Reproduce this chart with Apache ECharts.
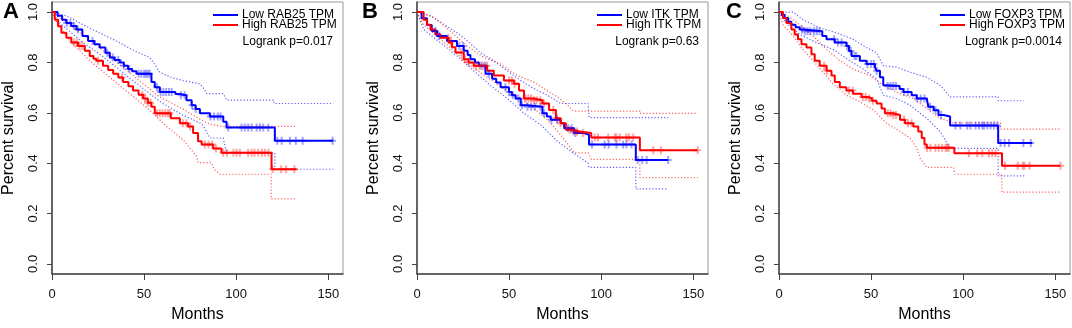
<!DOCTYPE html>
<html>
<head>
<meta charset="utf-8">
<script src="https://cdn.jsdelivr.net/npm/echarts@6/dist/echarts.min.js"></script>
<style>
  html, body { margin: 0; padding: 0; background: #fff; }
  #chart { width: 1072px; height: 328px; }
</style>
</head>
<body>
<div id="chart"></div>
<script>
// axis ticks
const monthTicks = [0, 50, 100, 150]
const survivalTicks = [0, 0.2, 0.4, 0.6, 0.8, 1.0]

const panelLetters = ['A', 'B', 'C']
const lowNames = ['Low RAB25 TPM', 'Low ITK TPM', 'Low FOXP3 TPM']
const highNames = ['High RAB25 TPM', 'High ITK TPM', 'High FOXP3 TPM']
const logrankTexts = ['Logrank p=0.017', 'Logrank p=0.63', 'Logrank p=0.0014']

// ---- A: RAB25 ---- [month, survival]
const rab25Low = [[0,1],[3,0.985],[5.5,0.97],[7.8,0.957],[10.5,0.945],[13.3,0.931],[16.5,0.905],[19.6,0.885],[23,0.872],[25.9,0.859],[29,0.838],[31.4,0.82],[34,0.81],[36.8,0.8],[39,0.787],[41.3,0.774],[43.5,0.765],[45.9,0.755],[54,0.722],[55.8,0.702],[58.5,0.683],[67,0.675],[69.4,0.67],[73,0.65],[75.8,0.63],[78,0.615],[80.3,0.598],[85.7,0.585],[93,0.565],[94.8,0.542],[121,0.489],[152.7,0.489]]
const rab25High = [[0,1],[1.5,0.97],[3.3,0.944],[5.1,0.918],[7.8,0.898],[10.5,0.879],[14.1,0.865],[17.8,0.846],[20.5,0.826],[22.5,0.815],[24.1,0.807],[27.7,0.787],[30.5,0.77],[33.2,0.755],[36,0.74],[38.6,0.722],[41.5,0.705],[44,0.689],[47,0.672],[49.5,0.657],[52,0.64],[54,0.624],[55.8,0.598],[64.5,0.578],[69.4,0.559],[73.9,0.546],[76.6,0.52],[79.3,0.487],[81.2,0.474],[87.5,0.458],[92,0.441],[119.2,0.376],[132.8,0.376]]
const rab25LowUpper = [[0,1],[8,0.985],[16.8,0.95],[25,0.92],[35,0.885],[45,0.845],[53,0.82],[56,0.79],[58.5,0.761],[65,0.74],[71.2,0.728],[80.3,0.715],[82,0.7],[84,0.676],[93,0.676],[94.8,0.65],[120.5,0.65],[120.5,0.637],[152.7,0.637]]
const rab25LowLower = [[0,1],[4.2,0.957],[16.8,0.879],[25.9,0.833],[35,0.781],[44,0.728],[53,0.676],[60.3,0.637],[71.2,0.59],[80.3,0.56],[82,0.55],[85.7,0.5],[93,0.5],[94.8,0.441],[121,0.441],[121,0.376],[152.7,0.376]]
const rab25HighUpper = [[0,1],[4.2,0.976],[16.8,0.911],[27.7,0.846],[38.6,0.781],[49.5,0.715],[58.5,0.663],[71.2,0.615],[80.3,0.575],[85.7,0.555],[93,0.546],[132.8,0.546]]
const rab25HighLower = [[0,1],[2.4,0.963],[9.6,0.885],[20.5,0.807],[31.4,0.741],[42.2,0.676],[53,0.611],[62.2,0.546],[71.2,0.493],[78.5,0.428],[79.3,0.402],[86.6,0.402],[88,0.376],[91.2,0.356],[119,0.356],[119,0.258],[132.8,0.258]]
const rab25LowCensor = [8,10,12,14,22,30,33,36,39,42,47,48.5,50,51,52,53,57,59,60.5,62,63.5,65,70,72,76,78,86,88,90,91.5,95.7,102.9,104.7,106.5,108.4,111.1,112.9,114.7,117.4,122.3,124.7,129.2,132.4,136.1,152.4]
const rab25HighCensor = [12,13.5,15,16.5,25,38,49,50.5,52,53.5,57,58.5,60,61.5,63,64,71,73,75,83,85,87,89,93,95,98.5,100.2,102,106.5,108.4,110,112,114,115.6,117.5,119.8,124.4,127.1,131.6]

// ---- B: ITK ----
const itkLow = [[0,1],[2.5,0.975],[5.4,0.949],[8,0.925],[10.9,0.905],[16.3,0.885],[21.7,0.865],[25.4,0.846],[27.5,0.83],[29,0.813],[31.5,0.8],[33.6,0.787],[37.2,0.755],[40.8,0.735],[43,0.72],[45.4,0.702],[49.9,0.683],[51.5,0.67],[53.5,0.657],[56.3,0.63],[59.9,0.624],[68.1,0.598],[70.5,0.585],[72.6,0.572],[78,0.559],[79.9,0.539],[85.3,0.52],[90.7,0.513],[93.4,0.474],[118.8,0.413],[136.4,0.413]]
const itkHigh = [[0,1],[3.6,0.97],[5.5,0.95],[7.3,0.931],[10,0.912],[12.7,0.898],[17.2,0.879],[19,0.86],[20.9,0.839],[25.4,0.813],[28,0.8],[30.8,0.787],[38.1,0.767],[41.7,0.748],[47.2,0.728],[52.6,0.715],[55.4,0.689],[58.1,0.657],[63.5,0.65],[68.1,0.637],[71.7,0.611],[75.4,0.578],[78,0.559],[80.8,0.533],[84.5,0.526],[88.1,0.52],[94.6,0.502],[121,0.451],[152.4,0.451]]
const itkLowUpper = [[0,1],[7.3,0.985],[16.3,0.944],[25.4,0.898],[34.5,0.839],[41.7,0.807],[49,0.767],[56.3,0.728],[63.5,0.696],[70.8,0.67],[78,0.637],[92.9,0.637],[93.4,0.581],[136.4,0.581]]
const itkLowLower = [[0,1],[3.6,0.931],[12.7,0.879],[21.7,0.826],[30.8,0.767],[39.9,0.709],[49,0.657],[58.1,0.598],[67.2,0.552],[76.2,0.487],[85,0.44],[92.9,0.4],[93.4,0.383],[118.8,0.383],[118.8,0.298],[136.4,0.298]]
const itkHighUpper = [[0,1],[9.1,0.98],[18.1,0.924],[27.2,0.865],[36.3,0.82],[45.4,0.794],[54.4,0.748],[63.5,0.722],[68.9,0.696],[76.2,0.663],[80.8,0.637],[85,0.607],[121,0.607],[121,0.598],[152.4,0.598]]
const itkHighLower = [[0,1],[3.6,0.949],[10.9,0.905],[19.9,0.846],[29,0.787],[38.1,0.741],[47.2,0.696],[56.3,0.657],[63.5,0.617],[70.8,0.572],[78,0.513],[85.3,0.441],[93,0.441],[94.7,0.415],[121,0.415],[121,0.343],[152.4,0.343]]
const itkLowCensor = [10,12,23,25,35,37,39,48,50,52,55,57,60,62,64,67,69,73,76,82,84,86,95,101.9,104.1,108.3,111.9,113.7,116.5,119.8,122.3,124.7,136.4]
const itkHighCensor = [17,18.5,24,26,28,32,34,36,38,50,51.5,53,59,60.5,62,63.5,65,67,69,74,76,78,83,85,87,90,96.5,98.3,103.8,107.4,108.3,110.1,113.7,115,117.4,128.3,132.4,152.4]

// ---- C: FOXP3 ----
const foxp3Low = [[0,1],[1.5,0.988],[3.1,0.976],[5,0.962],[6.7,0.95],[9,0.94],[11.3,0.931],[13,0.924],[23.5,0.905],[25.8,0.892],[30.3,0.879],[36.6,0.865],[38,0.845],[39.4,0.826],[43.9,0.807],[47.5,0.794],[52.1,0.781],[53,0.767],[54.8,0.741],[56.6,0.709],[58.4,0.706],[65.5,0.695],[67.5,0.683],[72,0.67],[74.8,0.657],[80.2,0.65],[81.1,0.624],[84,0.61],[86.6,0.591],[89.3,0.585],[92.9,0.55],[119,0.48],[137.5,0.48]]
const foxp3High = [[0,1],[2.2,0.976],[4,0.957],[6.7,0.931],[8.5,0.911],[10.3,0.892],[12.2,0.872],[14.9,0.859],[17.6,0.833],[19.4,0.807],[22.1,0.787],[25.8,0.767],[28.5,0.748],[30.3,0.722],[33,0.702],[36.6,0.689],[40.2,0.676],[44.8,0.663],[48.4,0.657],[50.5,0.648],[53,0.637],[55.7,0.617],[57.5,0.598],[62,0.591],[65.7,0.572],[68.4,0.559],[72.9,0.546],[75.6,0.526],[77.5,0.5],[79,0.474],[80.2,0.461],[95.2,0.439],[121.1,0.39],[152.8,0.39]]
const foxp3LowUpper = [[0,1],[7.6,1],[13,0.97],[22.1,0.937],[31.2,0.918],[40.2,0.892],[47.5,0.859],[53,0.839],[56.6,0.787],[63.9,0.781],[71.1,0.761],[80.2,0.741],[87.5,0.709],[92.9,0.663],[119,0.663],[119,0.648],[132.8,0.648]]
const foxp3LowLower = [[0,1],[4,0.957],[11.3,0.911],[20.3,0.879],[29.4,0.852],[38.4,0.807],[45.7,0.774],[53,0.735],[56.6,0.67],[63.9,0.657],[71.1,0.63],[80.2,0.578],[87.5,0.526],[92.9,0.459],[119,0.459],[119,0.35],[133.8,0.35]]
const foxp3HighUpper = [[0,1],[4,0.989],[11.3,0.95],[18.5,0.905],[25.8,0.852],[33,0.807],[40.2,0.774],[49.3,0.748],[56.6,0.709],[65.7,0.676],[72.9,0.657],[80.2,0.617],[87.5,0.578],[94.7,0.56],[120.3,0.56],[120.3,0.535],[152.8,0.535]]
const foxp3HighLower = [[0,1],[2.2,0.949],[7.6,0.905],[13,0.852],[18.5,0.807],[23.9,0.761],[29.4,0.715],[36.6,0.67],[43.9,0.644],[51.2,0.611],[58.4,0.559],[65.7,0.526],[71.1,0.5],[74.8,0.461],[76.6,0.42],[80.2,0.383],[94.7,0.383],[95.5,0.356],[121,0.356],[121,0.285],[152.8,0.285]]
const foxp3LowCensor = [12.5,14,15.5,17,19,20.5,22,30,32,34,37,39,41,42,48,50,51.5,53,59,60.5,62,63.5,68,70,75,77,79,82,85,88,95.8,98.5,102.2,104,106.7,108.6,110.4,111.3,113.1,114.9,116.7,118.5,120.3,122.5,124.9,132.7,136.7]
const foxp3HighCensor = [24.5,26,38,40,45.5,47,49,51,59,60.5,62,63.5,68,70,72,80.4,82.2,84.9,86.7,88.6,90.4,91.3,92.2,103.1,107.6,110.4,114,115.8,117.6,122.7,129.6,132.4,133.3,136,152.8]

const panels = [
  {low: rab25Low, high: rab25High, lowCi: [rab25LowUpper, rab25LowLower], highCi: [rab25HighUpper, rab25HighLower], lowCens: rab25LowCensor, highCens: rab25HighCensor},
  {low: itkLow, high: itkHigh, lowCi: [itkLowUpper, itkLowLower], highCi: [itkHighUpper, itkHighLower], lowCens: itkLowCensor, highCens: itkHighCensor},
  {low: foxp3Low, high: foxp3High, lowCi: [foxp3LowUpper, foxp3LowLower], highCi: [foxp3HighUpper, foxp3HighLower], lowCens: foxp3LowCensor, highCens: foxp3HighCensor}
]

const BLUE = '#0000ff', RED = '#ff0000'
const font = '"Liberation Sans", Arial, Helvetica, sans-serif'
const gridLeft = [52, 417, 779]
const legendLeft = [213, 597, 940]
const logrankRight = [333, 699, 1062]
const letterLeft = [3, 362, 726]
const plus = 'path://M2.5,0h2v8h-2zM0,3h7v2h-7z'

// survival value of a curve at time t (step function)
const stepAt = (curve, t) => {
  let v = curve[0][1]
  for (const [m, s] of curve) { if (m <= t) v = s; else break }
  return v
}

let grids = [], xAxes = [], yAxes = [], series = [], graphics = []

panels.forEach((p, i) => {
  grids.push({left: gridLeft[i], top: 2, width: 291, height: 276, show: true, borderColor: '#999', borderWidth: 1})
  xAxes.push({
    gridIndex: i, type: 'value', min: 0, max: 158,
    name: 'Months', nameLocation: 'middle', nameGap: 33,
    nameTextStyle: {fontSize: 16, fontFamily: font, color: '#000'},
    axisLine: {show: true, onZero: false, lineStyle: {color: '#444', width: 1.5}},
    axisTick: {show: true, length: 6, customValues: monthTicks, lineStyle: {color: '#444'}},
    axisLabel: {customValues: monthTicks, margin: 14, fontSize: 13, fontFamily: font, color: '#111'},
    splitLine: {show: false}
  })
  yAxes.push({
    gridIndex: i, type: 'value', min: -0.04, max: 1.04,
    name: 'Percent survival', nameLocation: 'middle', nameGap: 35,
    nameTextStyle: {fontSize: 16, fontFamily: font, color: '#000'},
    axisLine: {show: true, onZero: false, lineStyle: {color: '#444', width: 1.5}},
    axisTick: {show: true, length: 5, customValues: survivalTicks, lineStyle: {color: '#444'}},
    axisLabel: {customValues: survivalTicks, rotate: 90, margin: 12, fontSize: 13, fontFamily: font, color: '#111',
      formatter: v => v.toFixed(1)},
    splitLine: {show: false}
  })

  const ci = (data, color, name) => ({
    name, type: 'line', xAxisIndex: i, yAxisIndex: i, data, showSymbol: false, z: 1, silent: true,
    lineStyle: {color, width: 1.2, type: [1.2, 2]}
  })
  series.push(ci(p.lowCi[0], 'rgba(40,40,255,0.75)', 'lowU' + i))
  series.push(ci(p.lowCi[1], 'rgba(40,40,255,0.75)', 'lowL' + i))
  series.push(ci(p.highCi[0], 'rgba(255,40,40,0.75)', 'highU' + i))
  series.push(ci(p.highCi[1], 'rgba(255,40,40,0.75)', 'highL' + i))

  const km = (data, color, name) => ({
    name, type: 'line', step: 'end', xAxisIndex: i, yAxisIndex: i, data, showSymbol: false, z: 3,
    itemStyle: {color}, lineStyle: {color, width: 2}
  })
  series.push(km(p.low, BLUE, lowNames[i]))
  series.push(km(p.high, RED, highNames[i]))

  const cens = (times, curve, color, name) => ({
    name, type: 'scatter', xAxisIndex: i, yAxisIndex: i, z: 4, silent: true,
    data: times.map(t => [t, stepAt(curve, t)]),
    symbol: plus, symbolSize: [7, 8], itemStyle: {color}
  })
  series.push(cens(p.lowCens, p.low, 'rgba(0,0,255,0.45)', 'lowC' + i))
  series.push(cens(p.highCens, p.high, 'rgba(255,0,0,0.45)', 'highC' + i))

  // legend drawn like R's legend(): short line + label
  const lx = legendLeft[i]
  graphics.push({type: 'line', shape: {x1: lx, y1: 15, x2: lx + 25, y2: 15}, style: {stroke: BLUE, lineWidth: 2}})
  graphics.push({type: 'line', shape: {x1: lx, y1: 25, x2: lx + 25, y2: 25}, style: {stroke: RED, lineWidth: 2}})
  graphics.push({type: 'text', x: lx + 29, y: 15, style: {text: lowNames[i], font: '12px ' + font, fill: '#000', textVerticalAlign: 'middle'}})
  graphics.push({type: 'text', x: lx + 29, y: 25, style: {text: highNames[i], font: '12px ' + font, fill: '#000', textVerticalAlign: 'middle'}})
  graphics.push({type: 'text', x: logrankRight[i], y: 42, style: {text: logrankTexts[i], font: '12px ' + font, fill: '#000', textAlign: 'right', textVerticalAlign: 'middle'}})
  graphics.push({type: 'text', x: letterLeft[i], y: 12, style: {text: panelLetters[i], font: 'bold 22px ' + font, fill: '#000', textVerticalAlign: 'middle'}})
})

const chart = echarts.init(document.getElementById('chart'), null, {renderer: 'canvas'})
chart.setOption({
  animation: false,
  backgroundColor: '#fff',
  grid: grids, xAxis: xAxes, yAxis: yAxes,
  series, graphic: graphics
})
</script>
</body>
</html>
